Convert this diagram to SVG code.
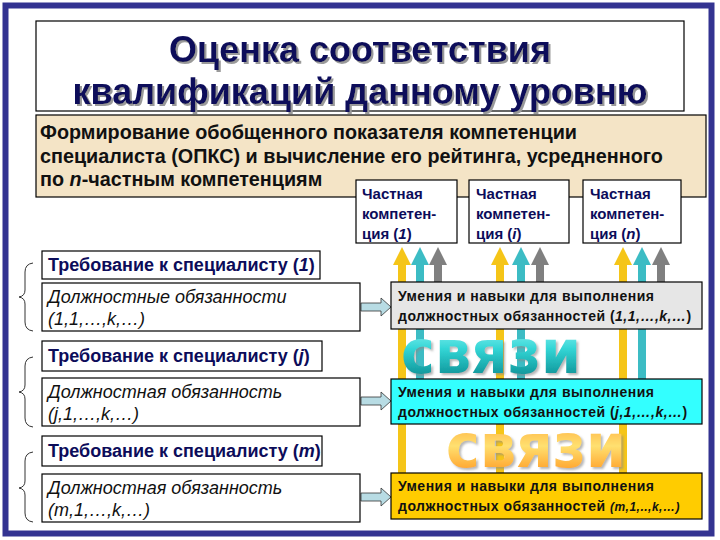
<svg xmlns="http://www.w3.org/2000/svg" width="720" height="540" viewBox="0 0 720 540">
<style>
.b{stroke:#000;stroke-width:1.2}
.ttl{font-family:"Liberation Sans",Arial,sans-serif;font-weight:bold;font-size:36px;fill:#0c0c5a;text-anchor:middle;filter:url(#shd)}
.bg{font-family:"Liberation Sans",Arial,sans-serif;font-weight:bold;font-size:19.8px;fill:#111}
.ch{font-family:"Liberation Sans",Arial,sans-serif;font-weight:bold;font-size:15px;fill:#0c0c5a}
.rq{font-family:"Liberation Sans",Arial,sans-serif;font-weight:bold;font-size:18px;fill:#0c0c5a}
.du{font-family:"Liberation Sans",Arial,sans-serif;font-style:italic;font-size:18px;fill:#111}
.sk{font-family:"Liberation Sans",Arial,sans-serif;font-weight:bold;font-size:14px;fill:#111;letter-spacing:0.5px}
.it{font-style:italic}
.brace{fill:none;stroke:#333;stroke-width:1}
.ha{fill:#b8dce4;stroke:#333;stroke-width:0.8}
.sv{font-family:"DejaVu Sans",Verdana,sans-serif;font-weight:bold;font-size:60px;filter:url(#shd2)}
</style>
<defs>
<filter id="shd" x="-5%" y="-20%" width="110%" height="140%"><feDropShadow dx="2" dy="2" stdDeviation="0.3" flood-color="#9a9a9a" flood-opacity="1"/></filter>
<filter id="shd2" x="-5%" y="-20%" width="110%" height="140%"><feDropShadow dx="2" dy="2" stdDeviation="0.8" flood-color="#888" flood-opacity="0.6"/></filter>
<marker id="hy" markerUnits="userSpaceOnUse" markerWidth="18" markerHeight="18" refX="9" refY="17" orient="0" viewBox="0 0 18 18"><path d="M0,18 L9,0 L18,18 Z" fill="#f5c518"/></marker>
<marker id="ht" markerUnits="userSpaceOnUse" markerWidth="18" markerHeight="18" refX="9" refY="17" orient="0" viewBox="0 0 18 18"><path d="M0,18 L9,0 L18,18 Z" fill="#3cbcc4"/></marker>
<marker id="hg" markerUnits="userSpaceOnUse" markerWidth="18" markerHeight="18" refX="9" refY="17" orient="0" viewBox="0 0 18 18"><path d="M0,18 L9,0 L18,18 Z" fill="#808080"/></marker>
<linearGradient id="gT" x1="0" y1="0" x2="0" y2="1"><stop offset="0" stop-color="#b8ffff"/><stop offset="0.45" stop-color="#33d6d6"/><stop offset="1" stop-color="#007a80"/></linearGradient>
<linearGradient id="gO" x1="0" y1="0" x2="0" y2="1"><stop offset="0" stop-color="#ff9a2a"/><stop offset="0.5" stop-color="#ffe070"/><stop offset="1" stop-color="#ff8a10"/></linearGradient>
</defs>

<rect x="5.5" y="5.5" width="706" height="528" fill="#fff" stroke="#333391" stroke-width="6"/>

<g id="title">
<rect x="36" y="21" width="648" height="90" fill="#fff" class="b"/>
<text class="ttl" x="360" y="62">Оценка соответствия</text>
<text class="ttl" x="360" y="104">квалификаций данному уровню</text>
</g>

<g id="opks">
<rect x="36" y="115" width="670" height="82" fill="#f4e4c6" class="b"/>
<text class="bg" x="40" y="139">Формирование обобщенного показателя компетенции</text>
<text class="bg" x="40" y="163">специалиста (ОПКС) и вычисление его рейтинга, усредненного</text>
<text class="bg" x="40" y="186">по <tspan class="it">n</tspan>-частным компетенциям</text>
</g>

<g id="connectors">
<line x1="402" y1="473" x2="402" y2="264" stroke="#f5c518" stroke-width="8" marker-end="url(#hy)"/>
<line x1="420" y1="379" x2="420" y2="264" stroke="#3cbcc4" stroke-width="8" marker-end="url(#ht)"/>
<line x1="438" y1="282" x2="438" y2="264" stroke="#808080" stroke-width="8" marker-end="url(#hg)"/>
<line x1="500" y1="473" x2="500" y2="264" stroke="#f5c518" stroke-width="8" marker-end="url(#hy)"/>
<line x1="521" y1="379" x2="521" y2="264" stroke="#3cbcc4" stroke-width="8" marker-end="url(#ht)"/>
<line x1="540" y1="282" x2="540" y2="264" stroke="#808080" stroke-width="8" marker-end="url(#hg)"/>
<line x1="623" y1="473" x2="623" y2="264" stroke="#f5c518" stroke-width="8" marker-end="url(#hy)"/>
<line x1="642" y1="379" x2="642" y2="264" stroke="#3cbcc4" stroke-width="8" marker-end="url(#ht)"/>
<line x1="661" y1="282" x2="661" y2="264" stroke="#808080" stroke-width="8" marker-end="url(#hg)"/>
<path class="ha" d="M361,303 H381 V298 L391,307 L381,316 V311 H361 Z"/>
<path class="ha" d="M361,397 H381 V392 L391,401 L381,410 V405 H361 Z"/>
<path class="ha" d="M361,493 H381 V488 L391,497 L381,506 V501 H361 Z"/>
<path class="brace" d="M33,263 Q25,264 25,272 V290 Q25,296 19,297 Q25,298 25,304 V322 Q25,330 33,331"/>
<path class="brace" d="M33,357 Q25,358 25,366 V385 Q25,391 19,392 Q25,393 25,399 V418 Q25,426 33,427"/>
<path class="brace" d="M33,452 Q25,453 25,461 V481 Q25,487 19,488 Q25,489 25,495 V513 Q25,521 33,522"/>
</g>

<g id="ch1">
<rect x="356" y="180" width="101" height="63" fill="#fff" class="b"/>
<text class="ch" x="362" y="199">Частная</text>
<text class="ch" x="362" y="219">компетен-</text>
<text class="ch" x="362" y="239">ция (<tspan class="it">1</tspan>)</text>
</g>
<g id="chi">
<rect x="469" y="180" width="100" height="63" fill="#fff" class="b"/>
<text class="ch" x="476" y="199">Частная</text>
<text class="ch" x="476" y="219">компетен-</text>
<text class="ch" x="476" y="239">ция (<tspan class="it">i</tspan>)</text>
</g>
<g id="chn">
<rect x="583" y="180" width="98" height="63" fill="#fff" class="b"/>
<text class="ch" x="590" y="199">Частная</text>
<text class="ch" x="590" y="219">компетен-</text>
<text class="ch" x="590" y="239">ция (<tspan class="it">n</tspan>)</text>
</g>

<g id="req1">
<rect x="42" y="251" width="278" height="28" fill="#fff" class="b"/>
<text class="rq" x="48" y="271">Требование к специалисту (<tspan class="it">1</tspan>)</text>
</g>
<g id="duty1">
<rect x="42" y="283" width="318" height="48" fill="#fff" class="b"/>
<text class="du" x="48" y="303">Должностные обязанности</text>
<text class="du" x="48" y="325">(1,1,…,k,…)</text>
</g>
<g id="reqj">
<rect x="42" y="341" width="280" height="30" fill="#fff" class="b"/>
<text class="rq" x="48" y="362">Требование к специалисту (<tspan class="it">j</tspan>)</text>
</g>
<g id="dutyj">
<rect x="42" y="378" width="318" height="48" fill="#fff" class="b"/>
<text class="du" x="48" y="398">Должностная обязанность</text>
<text class="du" x="48" y="420">(j,1,…,k,…)</text>
</g>
<g id="reqm">
<rect x="42" y="436" width="280" height="30" fill="#fff" class="b"/>
<text class="rq" x="48" y="457">Требование к специалисту (<tspan class="it">m</tspan>)</text>
</g>
<g id="dutym">
<rect x="42" y="474" width="318" height="48" fill="#fff" class="b"/>
<text class="du" x="48" y="494">Должностная обязанность</text>
<text class="du" x="48" y="516">(m,1,…,k,…)</text>
</g>

<g id="skill1">
<rect x="391" y="282" width="311" height="47" fill="#e6e6e6" class="b"/>
<text class="sk" x="398" y="301">Умения и навыки для выполнения</text>
<text class="sk" x="398" y="321">должностных обязанностей (<tspan class="it">1,1,…,k,…</tspan>)</text>
</g>
<g id="svyazi1">
<text class="sv" x="401" y="373" fill="url(#gT)" textLength="180" lengthAdjust="spacingAndGlyphs">связи</text>
</g>
<g id="skillj">
<rect x="391" y="379" width="311" height="45" fill="#33ffff" class="b"/>
<text class="sk" x="398" y="397">Умения и навыки для выполнения</text>
<text class="sk" x="398" y="417">должностных обязанностей (<tspan class="it">j,1,…,k,…</tspan>)</text>
</g>
<g id="svyazi2">
<text class="sv" x="446" y="467" fill="url(#gO)" textLength="180" lengthAdjust="spacingAndGlyphs">связи</text>
</g>
<g id="skillm">
<rect x="391" y="473" width="311" height="46" fill="#ffcc00" class="b"/>
<text class="sk" x="398" y="491">Умения и навыки для выполнения</text>
<text class="sk" x="398" y="511">должностных обязанностей <tspan class="it" font-size="12px">(m,1,..,k,…)</tspan></text>
</g>
</svg>
